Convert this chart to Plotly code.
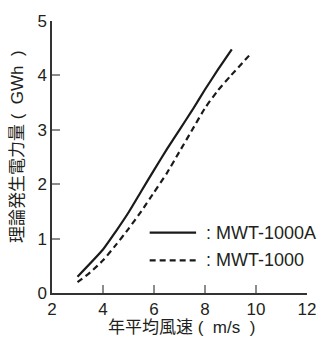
import plotly.graph_objects as go

# Data
wind_speed_a = [3, 4, 4.5, 5, 5.5, 6, 6.5, 7, 7.5, 8, 8.5, 9.05]
energy_a = [0.30, 0.80, 1.13, 1.48, 1.87, 2.26, 2.64, 3.00, 3.36, 3.74, 4.10, 4.48]
wind_speed_b = [3, 3.5, 4, 4.5, 5, 5.5, 6, 6.5, 7, 7.5, 8, 8.5, 9, 9.8]
energy_b = [0.20, 0.38, 0.60, 0.88, 1.18, 1.50, 1.85, 2.20, 2.60, 3.00, 3.40, 3.72, 3.99, 4.40]
series_names = [": MWT-1000A", ": MWT-1000"]
x_ticks = [2, 4, 6, 8, 10, 12]
y_ticks = [0, 1, 2, 3, 4, 5]
sp = "\u00a0\u00a0"
x_title = f"年平均風速 ({sp}m/s{sp})"
y_title = f"理論発生電力量 ({sp}GWh{sp})"

txt = "#231f20"
latin = "Liberation Sans, Arial, sans-serif"
mixed = "Liberation Sans, Noto Sans CJK JP, sans-serif"

fig = go.Figure()
fig.add_trace(go.Scatter(x=wind_speed_a, y=energy_a, mode="lines",
                         line=dict(color="#1a1a1a", width=2.2, shape="spline", smoothing=0.5),
                         showlegend=False))
fig.add_trace(go.Scatter(x=wind_speed_b, y=energy_b, mode="lines",
                         line=dict(color="#1a1a1a", width=2.2, dash="6px,4px", shape="spline", smoothing=0.5),
                         showlegend=False))

# Manual legend (in data coordinates)
leg_x0, leg_x1, leg_tx = 5.83, 7.65, 7.97
leg_y = [1.11, 0.60]
dashes = ["solid", "6px,4px"]
for name, yy, d in zip(series_names, leg_y, dashes):
    fig.add_shape(type="line", x0=leg_x0, x1=leg_x1, y0=yy, y1=yy, xref="x", yref="y",
                  line=dict(color="#1a1a1a", width=2.2, dash=d))
    fig.add_annotation(x=leg_tx, y=yy, xref="x", yref="y", text=name, showarrow=False,
                       xanchor="left", yanchor="middle", font=dict(family=latin, size=18, color=txt))

fig.add_annotation(x=0.506, y=-0.087, xref="paper", yref="paper", text=x_title, showarrow=False,
                   xanchor="center", yanchor="top", borderpad=0,
                   font=dict(family=mixed, size=17, color=txt))
fig.add_annotation(x=-0.133, y=0.537, xref="paper", yref="paper", text=y_title, showarrow=False,
                   textangle=-90, xanchor="center", yanchor="middle",
                   font=dict(family=mixed, size=17, color=txt))

axis_common = dict(showgrid=False, zeroline=False, showline=True, linecolor="#333333", linewidth=1.5,
                   ticks="inside", ticklen=8, tickwidth=1.5, tickcolor="#8c8c8c",
                   tickfont=dict(family=latin, size=17, color=txt))
fig.update_xaxes(range=[2, 12], tickvals=x_ticks, ticktext=[str(v) for v in x_ticks], **axis_common)
fig.update_yaxes(range=[0, 5], tickvals=y_ticks, ticktext=[str(v) for v in y_ticks], **axis_common)

fig.update_layout(width=328, height=339, margin=dict(l=52, r=12, t=16, b=46),
                  plot_bgcolor="white", paper_bgcolor="white")
fig.write_html("out.html")
